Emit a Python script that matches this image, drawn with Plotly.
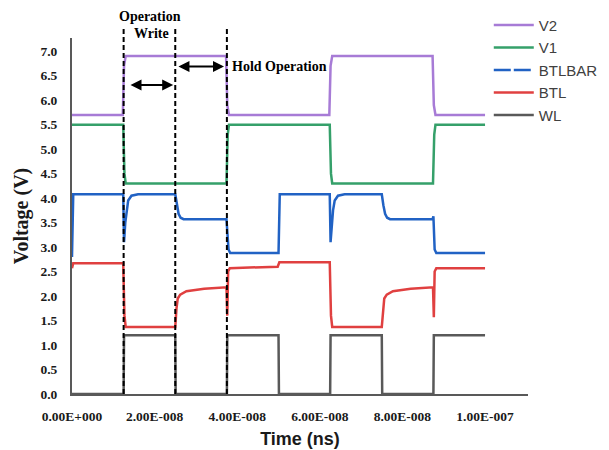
import plotly.graph_objects as go

# ---- waveform data (time in ns, voltage in V) ----
wl_t = [0, 12.5, 12.6, 25.0, 25.1, 37.5, 37.6, 50.0, 50.1, 62.5, 62.6, 75.0, 75.1, 87.5, 87.6, 100]
wl_v = [0, 0, 1.2, 1.2, 0, 0, 1.2, 1.2, 0, 0, 1.2, 1.2, 0, 0, 1.2, 1.2]

v2_t = [0, 12.3, 12.6, 13.0, 37.3, 37.6, 38.0, 62.3, 62.6, 63.0, 87.3, 87.6, 88.0, 100]
v2_v = [5.7, 5.7, 6.7, 6.9, 6.9, 5.9, 5.7, 5.7, 6.7, 6.9, 6.9, 5.9, 5.7, 5.7]

v1_t = [0, 12.4, 12.7, 13.0, 37.4, 37.7, 38.0, 62.4, 62.7, 63.0, 87.4, 87.7, 88.0, 100]
v1_v = [5.5, 5.5, 4.5, 4.3, 4.3, 5.3, 5.5, 5.5, 4.5, 4.3, 4.3, 5.3, 5.5, 5.5]

btlbar_t = [0, 0.3, 12.4, 12.6, 12.9, 13.2, 13.6, 14.4, 16.0, 25.0, 25.4, 25.8, 26.3, 27.0,
            37.4, 37.6, 37.9, 38.3, 50.0, 50.3, 62.4, 62.6, 62.9, 63.2, 63.6, 64.4, 66.0,
            75.0, 75.4, 75.8, 76.3, 77.0, 87.3, 87.5, 87.8, 88.2, 100]
btlbar_v = [2.8, 4.08, 4.08, 3.1, 3.5, 3.75, 3.95, 4.05, 4.08, 4.08, 3.85, 3.68, 3.6, 3.57,
            3.57, 3.35, 2.95, 2.88, 2.88, 4.08, 4.08, 3.1, 3.5, 3.75, 3.95, 4.05, 4.08,
            4.08, 3.85, 3.68, 3.6, 3.57, 3.57, 3.63, 2.95, 2.88, 2.88]

btl_t = [0, 0.3, 12.4, 12.7, 13.0, 25.0, 25.3, 25.6, 26.2, 27.7, 32.0, 37.4, 37.6, 37.8, 38.2,
         49.8, 50.2, 62.4, 62.7, 63.0, 75.0, 75.3, 75.6, 76.2, 77.7, 82.0, 87.4, 87.6, 87.8, 88.2, 100]
btl_v = [2.57, 2.67, 2.67, 1.6, 1.37, 1.37, 1.75, 1.95, 2.03, 2.1, 2.15, 2.18, 1.6, 2.5, 2.57,
         2.6, 2.69, 2.69, 1.6, 1.37, 1.37, 1.75, 1.95, 2.03, 2.1, 2.15, 2.18, 1.57, 2.5, 2.57, 2.57]

x_tick_vals = [0, 20, 40, 60, 80, 100]
x_tick_text = ["0.00E+000", "2.00E-008", "4.00E-008", "6.00E-008", "8.00E-008", "1.00E-007"]

phase_marks = [12.5, 25.0, 37.5]   # write / hold phase boundaries (ns)

X_MAX = 110.4
Y_MAX = 7.27

colors = {
    "V2": "#a77bd6",
    "V1": "#35a06a",
    "BTLBAR": "#2162c4",
    "BTL": "#e04040",
    "WL": "#595959",
}

serif = "Liberation Serif"
sans = "Liberation Sans"
LW = 2.5

fig = go.Figure()
fig.add_trace(go.Scatter(x=wl_t, y=wl_v, mode="lines", name="WL",
                         line=dict(color=colors["WL"], width=LW)))
fig.add_trace(go.Scatter(x=btl_t, y=btl_v, mode="lines", name="BTL",
                         line=dict(color=colors["BTL"], width=LW)))
fig.add_trace(go.Scatter(x=btlbar_t, y=btlbar_v, mode="lines", name="BTLBAR",
                         showlegend=False, line=dict(color=colors["BTLBAR"], width=LW)))
# legend entry for BTLBAR drawn with a dashed key
fig.add_trace(go.Scatter(x=[None], y=[None], mode="lines", name="BTLBAR",
                         line=dict(color=colors["BTLBAR"], width=LW, dash="17px,3px")))
fig.add_trace(go.Scatter(x=v1_t, y=v1_v, mode="lines", name="V1",
                         line=dict(color=colors["V1"], width=LW)))
fig.add_trace(go.Scatter(x=v2_t, y=v2_v, mode="lines", name="V2",
                         line=dict(color=colors["V2"], width=LW)))

# dashed phase boundaries, extending above the plot area
for t in phase_marks:
    fig.add_shape(type="line", xref="paper", yref="paper",
                  x0=t / X_MAX, x1=t / X_MAX, y0=0, y1=1.028,
                  line=dict(color="black", width=2, dash="5px,3px"))

# double-headed arrows marking write and hold intervals
arrow_font = dict(family=serif, size=14, color="black", weight="bold")
for (xa, xb, yv) in [(13.8, 24.5, 6.31), (25.4, 36.8, 6.69)]:
    fig.add_annotation(x=xb, y=yv, ax=xa, ay=yv, xref="x", yref="y", axref="x", ayref="y",
                       text="", showarrow=True, arrowhead=2, startarrowhead=2,
                       arrowside="end+start", arrowsize=1.1, startarrowsize=1.1,
                       arrowwidth=2, arrowcolor="black", standoff=0, startstandoff=0)

fig.add_annotation(x=18.9, y=1.059, xref="x", yref="paper", text="Operation",
                   showarrow=False, font=arrow_font, xanchor="center", yanchor="middle")
fig.add_annotation(x=19.2, y=1.014, xref="x", yref="paper", text="Write",
                   showarrow=False, font=arrow_font, xanchor="center", yanchor="middle")
fig.add_annotation(x=38.2, y=6.69, xref="x", yref="y", text="Hold Operation",
                   showarrow=False, font=arrow_font, xanchor="left", yanchor="middle")

tick_font = dict(family=serif, size=13.5, color="#1a1a1a", weight="bold")

fig.update_layout(
    width=609, height=450,
    margin=dict(l=72, r=81, t=38, b=56, autoexpand=False),
    paper_bgcolor="white", plot_bgcolor="white",
    showlegend=True,
    legend=dict(traceorder="reversed", x=0.914, y=1.082, xanchor="left", yanchor="top",
                font=dict(family=sans, size=15, color="#404040"),
                bgcolor="rgba(0,0,0,0)", itemwidth=40, tracegroupgap=0),
    xaxis=dict(range=[0, X_MAX], tickmode="array", tickvals=x_tick_vals, ticktext=x_tick_text,
               automargin=False,
               showgrid=False, zeroline=False, showline=True, linecolor="#595959", linewidth=2,
               ticks="", ticklabelstandoff=9, tickfont=tick_font,
               title=dict(text="Time (ns)", font=dict(family=sans, size=18, color="#1a1a1a", weight="bold"),
                          standoff=9)),
    yaxis=dict(range=[0, Y_MAX], tickmode="linear", tick0=0, dtick=0.5, tickformat=".1f",
               automargin=False,
               showgrid=False, zeroline=False, showline=True, linecolor="#595959", linewidth=2,
               ticks="", ticklabelstandoff=10, tickfont=tick_font,
               title=dict(text="Voltage (V)", font=dict(family=serif, size=20, color="#1a1a1a", weight="bold"),
                          standoff=6)),
)

fig.write_html("out.html")
